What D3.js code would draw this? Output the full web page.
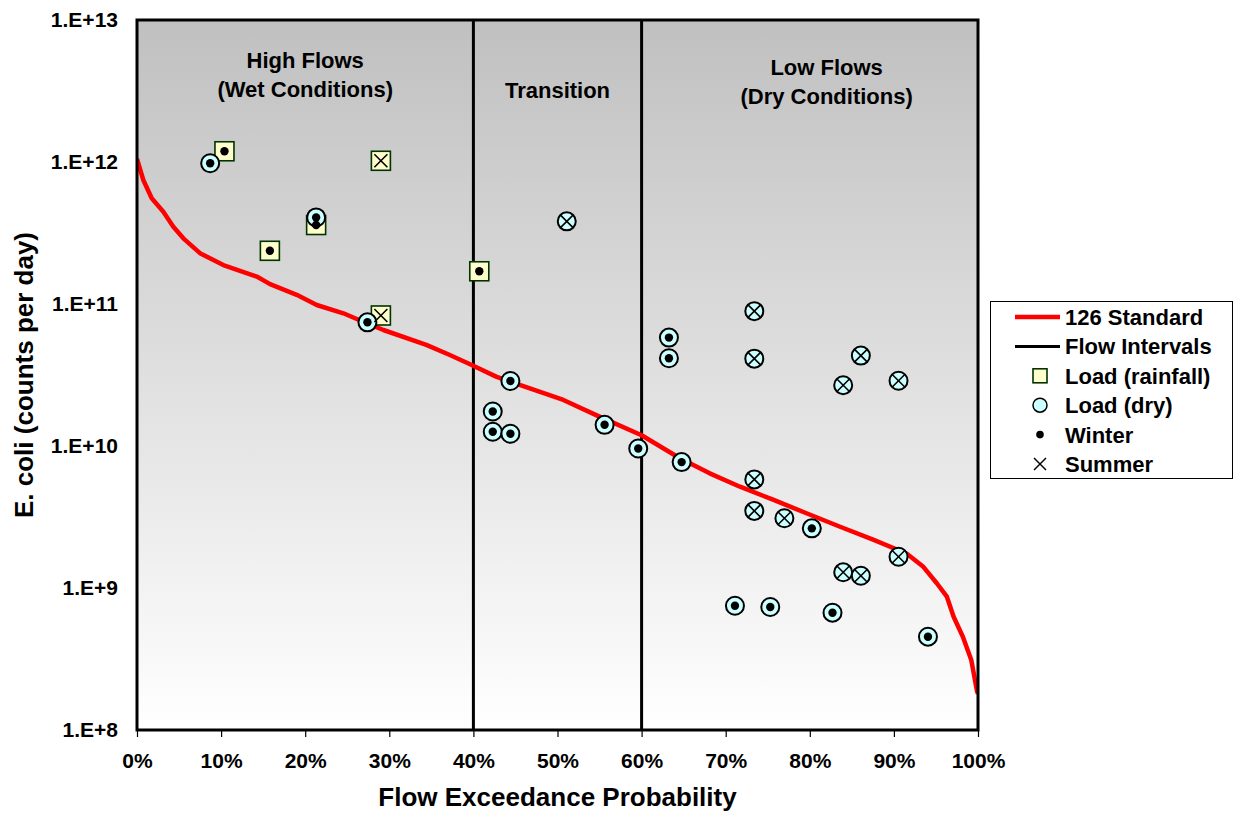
<!DOCTYPE html>
<html><head><meta charset="utf-8">
<script src="https://cdn.jsdelivr.net/npm/d3@7"></script>
<style>html,body{margin:0;padding:0;background:#fff;}svg{display:block;font-family:"Liberation Sans",Arial,sans-serif;font-weight:bold;}</style>
</head><body>
<svg id="c" width="1233" height="816"></svg>
<script>
// ---------- data ----------
const curveX = [0,0.75,1.75,3.13,4.32,5.51,7.49,10.26,14.24,15.82,18.99,21.37,24.54,26.9,29.3,34.4,37.2,39.8,42.7,45.5,50.7,54.6,60.0,64.5,68.1,71.7,75.7,79.6,83.6,87.6,91.5,93.5,95.1,96.3,97.1,98.2,99.2,99.9,100];
const curveY = [1.05e12,7.47e11,5.55e11,4.47e11,3.50e11,2.90e11,2.28e11,1.88e11,1.56e11,1.38e11,1.16e11,9.84e10,8.6e10,7.5e10,6.56e10,5.15e10,4.37e10,3.72e10,3.08e10,2.69e10,2.11e10,1.65e10,1.19e10,8.23e9,6.42e9,5.17e9,4.17e9,3.36e9,2.70e9,2.18e9,1.75e9,1.41e9,1.08e9,8.69e8,6.28e8,4.54e8,3.11e8,1.86e8,1.8e8];
const rainWinter = [[10.4,1.19e12],[15.8,2.37e11],[21.3,3.6e11],[40.7,1.70e11]];
const rainSummer = [[29.0,1.02e12],[29.0,8.3e10]];
const dryWinter = [[8.7,9.8e11],[21.3,4.07e11],[27.4,7.43e10],[44.4,2.87e10],[42.3,1.75e10],[42.3,1.26e10],[44.4,1.22e10],[55.6,1.41e10],[59.6,9.6e9],[63.25,5.8e10],[63.25,4.15e10],[64.76,7.7e9],[80.24,2.63e9],[71.1,7.5e8],[75.3,7.35e8],[82.7,6.7e8],[94.05,4.54e8]];
const drySummer = [[51.1,3.82e11],[73.4,8.9e10],[73.4,4.12e10],[86.07,4.33e10],[83.97,2.68e10],[90.55,2.88e10],[73.4,5.82e9],[73.4,3.49e9],[76.98,3.1e9],[90.55,1.66e9],[83.97,1.29e9],[86.07,1.22e9]];
const flowIntervals = [40, 60];
const xTicks = [0,10,20,30,40,50,60,70,80,90,100];
const yTicks = [1e8,1e9,1e10,1e11,1e12,1e13];
const zoneLabels = [
  {x:20, lines:["High Flows","(Wet Conditions)"], y0:68},
  {x:50, lines:["Transition"], y0:98},
  {x:82, lines:["Low Flows","(Dry Conditions)"], y0:75}
];
const legendItems = ["126 Standard","Flow Intervals","Load (rainfall)","Load (dry)","Winter","Summer"];

// ---------- layout ----------
const L = 137, R = 978, T = 20, B = 730;
const svg = d3.select("#c");
const x = d3.scaleLinear().domain([0,100]).range([L,R]);
const y = d3.scaleLog().domain([1e8,1e13]).range([B,T]);

const defs = svg.append("defs");
const g = defs.append("linearGradient").attr("id","bg").attr("x1",0).attr("y1",0).attr("x2",0).attr("y2",1);
g.append("stop").attr("offset","0%").attr("stop-color","#c0c0c0");
g.append("stop").attr("offset","100%").attr("stop-color","#ffffff");
defs.append("clipPath").attr("id","clip").append("rect").attr("x",L).attr("y",T).attr("width",R-L).attr("height",B-T);

svg.append("rect").attr("x",L).attr("y",T).attr("width",R-L).attr("height",B-T).attr("fill","url(#bg)");

// flow interval lines
svg.selectAll("line.fi").data(flowIntervals).enter().append("line")
  .attr("x1",d=>x(d)).attr("x2",d=>x(d)).attr("y1",T).attr("y2",B)
  .attr("stroke","#000").attr("stroke-width",3);

// zone labels
zoneLabels.forEach(z=>{
  z.lines.forEach((t,i)=>{
    svg.append("text").attr("x",x(z.x)).attr("y",z.y0+i*29).attr("text-anchor","middle")
      .attr("font-size",22).attr("fill","#000").text(t);
  });
});

// standard curve
const line = d3.line().x(d=>x(d[0])).y(d=>y(d[1]));
svg.append("path").datum(curveX.map((v,i)=>[v,curveY[i]]))
  .attr("d",line).attr("fill","none").attr("stroke","#ff0000").attr("stroke-width",4.5)
  .attr("stroke-linejoin","round").attr("clip-path","url(#clip)");

// markers
const SQ = 19, CR = 9;
const rain = rainWinter.concat(rainSummer);
const dry = dryWinter.concat(drySummer);
svg.selectAll("rect.rain").data(rain).enter().append("rect")
  .attr("x",d=>x(d[0])-SQ/2).attr("y",d=>y(d[1])-SQ/2).attr("width",SQ).attr("height",SQ)
  .attr("fill","#ffffcc").attr("stroke","#003300").attr("stroke-width",1.6);
svg.selectAll("circle.dry").data(dry).enter().append("circle")
  .attr("cx",d=>x(d[0])).attr("cy",d=>y(d[1])).attr("r",CR)
  .attr("fill","#ccffff").attr("stroke","#000").attr("stroke-width",2);
svg.selectAll("circle.win").data(rainWinter.concat(dryWinter)).enter().append("circle")
  .attr("cx",d=>x(d[0])).attr("cy",d=>y(d[1])).attr("r",4.2).attr("fill","#000");
const xs = 6.5;
const sumG = svg.selectAll("g.sum").data(rainSummer.concat(drySummer)).enter().append("g")
  .attr("transform",d=>`translate(${x(d[0])},${y(d[1])})`);
sumG.append("line").attr("x1",-xs).attr("y1",-xs).attr("x2",xs).attr("y2",xs).attr("stroke","#000").attr("stroke-width",1.6);
sumG.append("line").attr("x1",-xs).attr("y1",xs).attr("x2",xs).attr("y2",-xs).attr("stroke","#000").attr("stroke-width",1.6);

// frame
svg.append("rect").attr("x",L).attr("y",T).attr("width",R-L).attr("height",B-T)
  .attr("fill","none").attr("stroke","#000").attr("stroke-width",3);

// axes
const xAxis = svg.append("g").attr("transform",`translate(0,${B})`)
  .call(d3.axisBottom(x).tickValues(xTicks).tickFormat(d=>d+"%").tickSize(7).tickPadding(16));
xAxis.select(".domain").remove();
xAxis.selectAll("line").attr("stroke","#000").attr("stroke-width",1.2);
xAxis.selectAll("text").attr("font-size",21).attr("font-family","Liberation Sans, Arial, sans-serif").attr("font-weight","bold").attr("fill","#000");

const yAxis = svg.append("g").attr("transform",`translate(${L},0)`)
  .call(d3.axisLeft(y).tickValues(yTicks).tickFormat(d=>"1.E+"+Math.round(Math.log10(d))).tickSize(0).tickPadding(19));
yAxis.select(".domain").remove();
yAxis.selectAll("text").attr("font-size",21).attr("font-family","Liberation Sans, Arial, sans-serif").attr("font-weight","bold").attr("fill","#000");

// axis titles
svg.append("text").attr("x",(L+R)/2).attr("y",806).attr("text-anchor","middle").attr("font-size",26).text("Flow Exceedance Probability");
svg.append("text").attr("transform",`translate(33,${(T+B)/2}) rotate(-90)`).attr("text-anchor","middle").attr("font-size",26).text("E. coli (counts per day)");

// legend
const lg = svg.append("g");
lg.append("rect").attr("x",990.5).attr("y",301.5).attr("width",242).attr("height",177).attr("fill","#fff").attr("stroke","#000").attr("stroke-width",1);
const rowY = i => 317 + i*29.4;
lg.selectAll("text").data(legendItems).enter().append("text")
  .attr("x",1065).attr("y",(d,i)=>rowY(i)+8).attr("font-size",22).attr("fill","#000").text(d=>d);
lg.append("line").attr("x1",1015).attr("x2",1060).attr("y1",rowY(0)).attr("y2",rowY(0)).attr("stroke","#ff0000").attr("stroke-width",4.5);
lg.append("line").attr("x1",1015).attr("x2",1060).attr("y1",rowY(1)).attr("y2",rowY(1)).attr("stroke","#000").attr("stroke-width",3);
lg.append("rect").attr("x",1040-7).attr("y",rowY(2)-7).attr("width",14).attr("height",14).attr("fill","#ffffcc").attr("stroke","#003300").attr("stroke-width",1.6);
lg.append("circle").attr("cx",1040).attr("cy",rowY(3)).attr("r",7).attr("fill","#ccffff").attr("stroke","#000").attr("stroke-width",1.5);
lg.append("circle").attr("cx",1040).attr("cy",rowY(4)).attr("r",3.8).attr("fill","#000");
lg.append("line").attr("x1",1034).attr("y1",rowY(5)-6).attr("x2",1046).attr("y2",rowY(5)+6).attr("stroke","#000").attr("stroke-width",1.4);
lg.append("line").attr("x1",1034).attr("y1",rowY(5)+6).attr("x2",1046).attr("y2",rowY(5)-6).attr("stroke","#000").attr("stroke-width",1.4);
</script>
</body></html>
